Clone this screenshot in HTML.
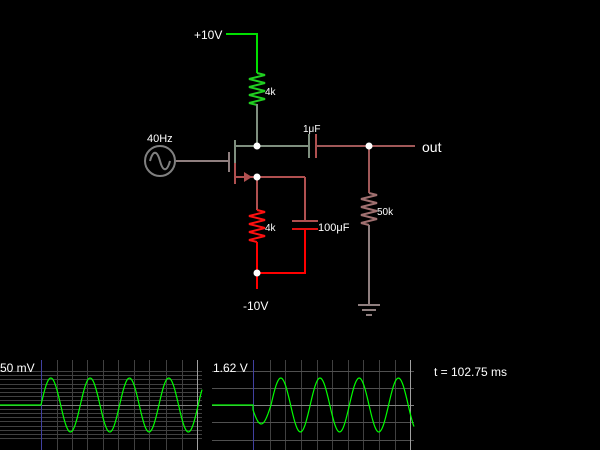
<!DOCTYPE html>
<html><head><style>
html,body{margin:0;padding:0;background:#000;width:600px;height:450px;overflow:hidden}
svg{display:block}
text{font-family:"Liberation Sans",sans-serif;font-size:12px;fill:#fff}
</style></head><body>
<svg id="s" width="600" height="450" viewBox="0 0 600 450" xmlns="http://www.w3.org/2000/svg">
<g fill="none" stroke-width="2">
<polyline points="226,34 257,34 257,73" stroke="#00e000"/>
<polyline id="r1" stroke="#20d020" points=""/>
<line x1="257" y1="104" x2="257" y2="146" stroke="#7f8f7f"/>
<line x1="235" y1="146" x2="309" y2="146" stroke="#7f8f7f"/>
<line x1="235" y1="140" x2="235" y2="165" stroke="#7f8f7f"/>
<line x1="235" y1="163" x2="235" y2="184" stroke="#b05050"/>
<line x1="229" y1="152" x2="229" y2="172" stroke="#8f7f7f"/>
<line x1="176" y1="161" x2="229" y2="161" stroke="#8f7f7f"/>
<circle cx="160" cy="161" r="15" stroke="#808080"/>
<path d="M150,161 C153,150 157,150 160,161 C163,172 167,172 170,161" stroke="#808080"/>
<line x1="235" y1="177" x2="305" y2="177" stroke="#b05050"/>
<polyline points="305,177 305,221" stroke="#b05050"/>
<line x1="292" y1="221" x2="318" y2="221" stroke="#b05050"/>
<line x1="292" y1="229" x2="318" y2="229" stroke="#e01010"/>
<polyline points="305,229 305,273 257,273" stroke="#ff0000"/>
<line x1="257" y1="177" x2="257" y2="210" stroke="#b05050"/>
<polyline id="r2" stroke="#ff1010" points=""/>
<line x1="257" y1="242" x2="257" y2="289" stroke="#ff0000"/>
<line x1="309" y1="134" x2="309" y2="158" stroke="#7f8f7f"/>
<line x1="316" y1="134" x2="316" y2="158" stroke="#b05050"/>
<line x1="316" y1="146" x2="415" y2="146" stroke="#a05858"/>
<line x1="369" y1="146" x2="369" y2="193" stroke="#a05858"/>
<polyline id="r3" stroke="#a07070" points=""/>
<line x1="369" y1="225" x2="369" y2="305" stroke="#8f7f7f"/>
<line x1="358" y1="305" x2="380" y2="305" stroke="#8f7f7f"/>
<line x1="362" y1="310" x2="376" y2="310" stroke="#8f7f7f"/>
<line x1="366" y1="315" x2="372" y2="315" stroke="#8f7f7f"/>
</g>
<polygon points="244,172 252,177 244,182" fill="#b05050"/>
<g fill="#fff"><circle cx="257" cy="146" r="3.5"/><circle cx="257" cy="177" r="3.5"/><circle cx="369" cy="146" r="3.5"/><circle cx="257" cy="273" r="3.5"/></g>
<text x="194" y="39">+10V</text>
<text x="265" y="95" style="font-size:10px">4k</text>
<text x="147" y="142" style="font-size:11px">40Hz</text>
<text x="303" y="132" style="font-size:10px">1μF</text>
<text x="422" y="152" style="font-size:14px">out</text>
<text x="377" y="215" style="font-size:10px">50k</text>
<text x="265" y="231" style="font-size:10px">4k</text>
<text x="318" y="231" style="font-size:11px">100μF</text>
<text x="243" y="310">-10V</text>
<text x="434" y="376">t = 102.75 ms</text>
<g id="g1" stroke-width="1"></g>
<text x="0" y="372">50 mV</text>
<text x="213" y="372">1.62 V</text>
</svg>
<script>
var NS="http://www.w3.org/2000/svg",s=document.getElementById('s'),g=document.getElementById('g1');
function zz(x,y0,y1){var p=[x+","+y0],n=8,h=(y1-y0)/n;for(var i=0;i<n;i++){p.push((x+(i%2?-8:8))+","+(y0+h*(i+0.5)));}p.push(x+","+y1);return p.join(" ");}
document.getElementById('r1').setAttribute('points',zz(257,73,105));
document.getElementById('r2').setAttribute('points',zz(257,210,242));
document.getElementById('r3').setAttribute('points',zz(369,193,225));
function L(x1,y1,x2,y2,c,w){var l=document.createElementNS(NS,'line');l.setAttribute('x1',x1);l.setAttribute('y1',y1);l.setAttribute('x2',x2);l.setAttribute('y2',y2);l.setAttribute('stroke',c);l.setAttribute('stroke-width',w||1);g.appendChild(l);}
function P(pts){var l=document.createElementNS(NS,'polyline');l.setAttribute('points',pts.join(' '));l.setAttribute('fill','none');l.setAttribute('stroke','#00ff00');l.setAttribute('stroke-width',1.2);g.appendChild(l);}
[57,72,87,103,118,134,149,166,182].forEach(function(x){L(x+0.5,360,x+0.5,450,'#404040');});
for(var y=371;y<=440;y+=4.2){if(Math.abs(y-405)>2)L(0,Math.round(y)+0.5,202,Math.round(y)+0.5,'#404040');}
L(0,405.5,202,405.5,'#808080');L(41.5,360,41.5,450,'#4040a0');L(197.5,360,197.5,450,'#a0a0a0');
var p=["0,405","41,405"];for(var x=41;x<=202;x++)p.push(x+","+(405-27*Math.sin(2*Math.PI*(x-41)/39.3)).toFixed(1));P(p);
[270,285,301,317,332,348,363,379,395].forEach(function(x){L(x+0.5,360,x+0.5,450,'#404040');});
[371,388,422,440].forEach(function(y){L(212,y+0.5,414,y+0.5,'#505050');});
L(212,405.5,414,405.5,'#808080');L(253.5,360,253.5,450,'#4040a0');L(410.5,360,410.5,450,'#a0a0a0');
p=["212,405","253,405"];for(x=253;x<=414;x++){var a=27,v=Math.sin(2*Math.PI*(x-271)/39.2);if(x<271&&v<0)a=19;p.push(x+","+(405-a*v).toFixed(1));}P(p);
</script>
</body></html>
